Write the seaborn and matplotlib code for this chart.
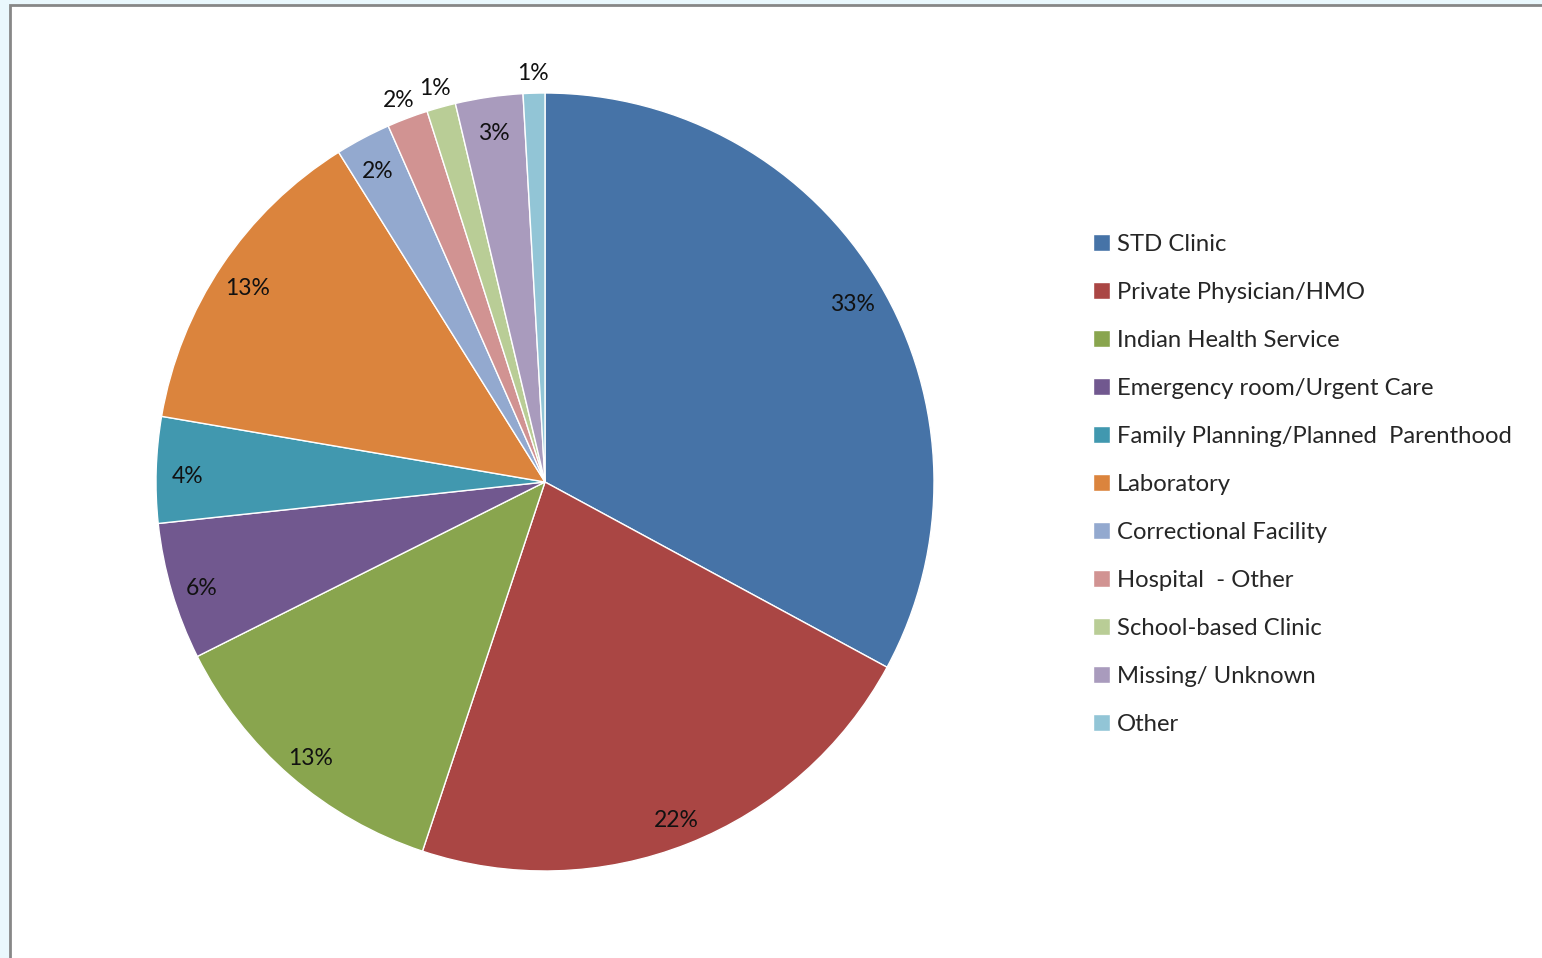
import numpy as np
import matplotlib
matplotlib.use("Agg")
import matplotlib.pyplot as plt
import matplotlib.transforms as mtransforms
import seaborn as sns
from matplotlib.patches import Rectangle

# Data (share of total, %)
categories = [
    "STD Clinic",
    "Private Physician/HMO",
    "Indian Health Service",
    "Emergency room/Urgent Care",
    "Family Planning/Planned  Parenthood",
    "Laboratory",
    "Correctional Facility",
    "Hospital  - Other",
    "School-based Clinic",
    "Missing/ Unknown",
    "Other",
]
shares = [32.9, 22.2, 12.5, 5.7, 4.4, 13.4, 2.3, 1.7, 1.2, 2.8, 0.9]
pct_labels = ["33%", "22%", "13%", "6%", "4%", "13%", "2%", "2%", "1%", "3%", "1%"]

colors = ["#4673A7", "#AA4644", "#89A54E", "#71588F", "#4198AF", "#DB843D",
          "#93A9CF", "#D19392", "#B9CD96", "#A99BBD", "#92C5D6"]

sns.set_theme(style="white")
plt.rcParams["font.family"] = ["Lato", "DejaVu Sans"]

W, H = 1542, 958
fig = plt.figure(figsize=(W / 100, H / 100), dpi=100)
fig.patch.set_facecolor("#EAF8FD")

# chart area frame
fig.patches.append(Rectangle((10 / W, -0.05), 1.1, 1 - 5 / H + 0.05,
                             transform=fig.transFigure, facecolor="white",
                             edgecolor="#878787", linewidth=2.0, zorder=-5))

cx, cy, r = 545, 482, 389
ax = fig.add_axes([(cx - r) / W, (H - cy - r) / H, 2 * r / W, 2 * r / H])
ax.set_zorder(2)

wedges, _ = ax.pie(shares, colors=sns.color_palette(colors), startangle=90,
                   counterclock=False, radius=1,
                   wedgeprops=dict(edgecolor="white", linewidth=1.0))
ax.set_xlim(-1, 1)
ax.set_ylim(-1, 1)
ax.axis("off")

# data labels sit a little below the geometric spot, like Excel's
lab_trans = mtransforms.offset_copy(ax.transData, fig=fig, x=0, y=-6, units="dots")
outside = {7, 8, 10}
for i, (w, lab) in enumerate(zip(wedges, pct_labels)):
    ang = np.deg2rad((w.theta1 + w.theta2) / 2)
    d = 1.065 if i in outside else 0.92
    ax.text(d * np.cos(ang), d * np.sin(ang), lab, ha="center", va="center",
            fontsize=16.5, color="#111111", clip_on=False, transform=lab_trans)

leg = fig.legend(wedges, categories, loc="upper left",
                 bbox_to_anchor=(1093 / W, 1 - 234 / H), frameon=False,
                 fontsize=17.2, handlelength=0.7, handleheight=0.7,
                 handletextpad=0.3, labelspacing=1.13, borderpad=0,
                 borderaxespad=0)
leg.set_zorder(3)

fig.savefig("out.png", dpi=100, facecolor=fig.get_facecolor())
